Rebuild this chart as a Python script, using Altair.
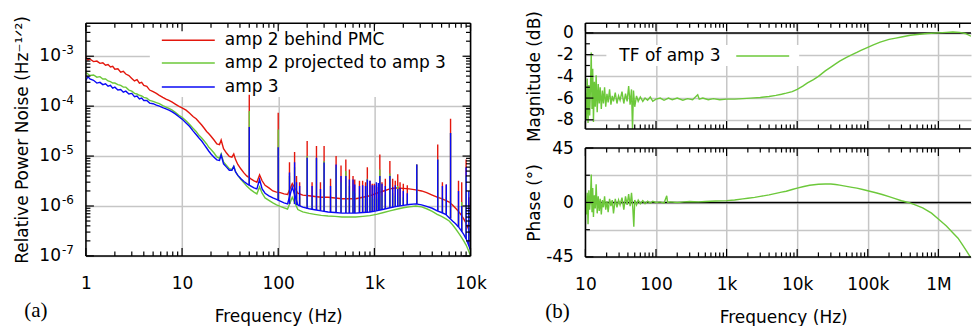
import altair as alt
import pandas as pd

FONT = "DejaVu Sans"
SERIF = "Liberation Serif"
RED = "#e3170d"
GREEN = "#6cc83a"
BLUE = "#0a0af5"
GRID = "#c6c6c6"

labels = ["amp 2 behind PMC", "amp 2 projected to amp 3", "amp 3"]

# ---------------- panel (a): relative power noise ----------------
noise_freq = [1.0, 1.05, 1.1, 1.2, 1.3, 1.4, 1.5, 1.6, 1.7, 1.8, 1.9, 2.0, 2.15, 2.3, 2.45, 2.6, 2.8, 3.0,
              3.2, 3.4, 3.6, 3.8, 4.0, 4.3, 4.6, 5.0, 5.4, 5.8, 6.3, 6.8, 7.3, 7.9, 8.5, 9.2, 10, 11, 12, 13,
              14, 15, 16, 17, 18, 19, 20, 21.5, 23, 24.5, 25.5, 27, 29, 31, 33, 34.5, 36, 38, 41, 44, 47, 52,
              56, 60, 64, 68, 73, 80, 88, 96, 105, 115, 125, 140, 160, 180, 210, 240, 280, 330, 390, 460,
              540, 640, 760, 900, 1050, 1250, 1450, 1700, 2000, 2300, 2700, 3100, 3500, 4000, 4500, 5000,
              5500, 6000, 6500, 7000, 7500, 8000, 8500, 9000, 9500, 10000]

red = [9.6e-4, 8.4e-4, 8.8e-4, 7.8e-4, 8.0e-4, 7.2e-4, 7.4e-4, 6.6e-4, 6.8e-4, 6.1e-4, 6.3e-4, 5.5e-4,
       5.6e-4, 4.8e-4, 5.0e-4, 4.4e-4, 4.1e-4, 3.6e-4, 3.2e-4, 3.4e-4, 2.9e-4, 3.0e-4, 2.6e-4, 2.5e-4,
       2.1e-4, 1.95e-4, 1.8e-4, 1.65e-4, 1.5e-4, 1.38e-4, 1.3e-4, 1.2e-4, 1.1e-4, 1.0e-4, 9.2e-5, 8.3e-5,
       7.2e-5, 6.2e-5, 5.6e-5, 4.8e-5, 4.2e-5, 3.6e-5, 3.1e-5, 2.8e-5, 2.5e-5, 2.1e-5, 1.75e-5, 1.7e-5,
       2.1e-5, 1.4e-5, 1.15e-5, 9.8e-6, 9.5e-6, 1.1e-5, 8.5e-6, 6.8e-6, 5.5e-6, 4.6e-6, 4.0e-6, 3.5e-6,
       3.2e-6, 3.0e-6, 4.2e-6, 3.2e-6, 2.6e-6, 2.3e-6, 2.0e-6, 1.9e-6, 1.85e-6, 1.75e-6, 1.7e-6, 2.8e-6,
       1.8e-6, 1.65e-6, 1.6e-6, 1.55e-6, 1.5e-6, 1.5e-6, 1.45e-6, 1.4e-6, 1.4e-6, 1.4e-6, 1.5e-6, 1.6e-6,
       1.8e-6, 2.0e-6, 2.2e-6, 2.3e-6, 2.25e-6, 2.2e-6, 2.1e-6, 2.0e-6, 1.85e-6, 1.65e-6, 1.5e-6, 1.4e-6,
       1.3e-6, 1.2e-6, 1.05e-6, 9.0e-7, 7.8e-7, 6.6e-7, 5.5e-7, 4.5e-7, 3.5e-7, 2.5e-7]

green = [4.7e-4, 4.4e-4, 4.1e-4, 4.2e-4, 3.8e-4, 3.9e-4, 3.5e-4, 3.5e-4, 3.2e-4, 3.1e-4, 2.9e-4, 2.9e-4,
         2.7e-4, 2.6e-4, 2.4e-4, 2.4e-4, 2.1e-4, 2.0e-4, 1.8e-4, 1.75e-4, 1.65e-4, 1.6e-4, 1.5e-4, 1.45e-4,
         1.3e-4, 1.25e-4, 1.18e-4, 1.12e-4, 1.03e-4, 9.6e-5, 9.0e-5, 8.3e-5, 7.5e-5, 6.6e-5, 6.0e-5, 5.1e-5,
         4.3e-5, 3.6e-5, 3.1e-5, 2.6e-5, 2.3e-5, 2.0e-5, 1.75e-5, 1.5e-5, 1.35e-5, 1.15e-5, 9.6e-6, 9.0e-6,
         1.1e-5, 7.6e-6, 6.5e-6, 5.6e-6, 5.4e-6, 6.2e-6, 4.9e-6, 4.1e-6, 3.4e-6, 2.9e-6, 2.5e-6, 2.1e-6,
         1.9e-6, 1.75e-6, 2.4e-6, 1.8e-6, 1.45e-6, 1.3e-6, 1.15e-6, 1.05e-6, 9.8e-7, 9.2e-7, 8.7e-7, 1.5e-6,
         8.5e-7, 7.6e-7, 7.1e-7, 6.8e-7, 6.5e-7, 6.3e-7, 6.2e-7, 6.0e-7, 6.0e-7, 6.0e-7, 6.2e-7, 6.4e-7,
         6.8e-7, 7.4e-7, 8.0e-7, 8.6e-7, 9.2e-7, 9.6e-7, 1.0e-6, 9.6e-7, 8.8e-7, 7.8e-7, 6.8e-7, 6.2e-7,
         5.6e-7, 5.0e-7, 4.2e-7, 3.5e-7, 2.9e-7, 2.4e-7, 2.0e-7, 1.65e-7, 1.3e-7, 1.0e-7]

blue = [3.3e-4, 3.9e-4, 3.5e-4, 3.3e-4, 2.9e-4, 3.0e-4, 2.7e-4, 2.8e-4, 2.5e-4, 2.6e-4, 2.3e-4, 2.4e-4,
        2.1e-4, 2.15e-4, 1.9e-4, 2.0e-4, 1.75e-4, 1.8e-4, 1.55e-4, 1.6e-4, 1.4e-4, 1.45e-4, 1.3e-4, 1.3e-4,
        1.15e-4, 1.12e-4, 1.05e-4, 1.0e-4, 9.3e-5, 8.8e-5, 8.3e-5, 7.7e-5, 7.0e-5, 6.2e-5, 5.5e-5, 4.6e-5,
        3.9e-5, 3.2e-5, 2.7e-5, 2.3e-5, 2.0e-5, 1.7e-5, 1.45e-5, 1.25e-5, 1.1e-5, 9.5e-6, 8.4e-6, 8.2e-6,
        1.05e-5, 7.0e-6, 6.0e-6, 5.2e-6, 5.2e-6, 6.2e-6, 4.8e-6, 4.1e-6, 3.5e-6, 3.1e-6, 2.8e-6, 2.5e-6,
        2.3e-6, 2.2e-6, 3.4e-6, 2.2e-6, 1.8e-6, 1.6e-6, 1.45e-6, 1.35e-6, 1.25e-6, 1.15e-6, 1.1e-6, 2.4e-6,
        1.05e-6, 9.5e-7, 8.8e-7, 8.4e-7, 8.0e-7, 7.6e-7, 7.4e-7, 7.2e-7, 7.2e-7, 7.2e-7, 7.4e-7, 7.6e-7,
        8.0e-7, 8.6e-7, 9.2e-7, 9.8e-7, 1.03e-6, 1.07e-6, 1.1e-6, 1.05e-6, 9.8e-7, 9.0e-7, 8.0e-7, 7.4e-7,
        6.8e-7, 5.8e-7, 5.0e-7, 4.4e-7, 3.8e-7, 3.2e-7, 2.7e-7, 2.2e-7, 1.7e-7, 1.3e-7]

# narrow spectral lines: frequency, foot (local floor), top of each trace
spike_freq = [50, 100, 131, 148, 155, 167, 200, 225, 250, 275, 300, 350, 400, 450, 505, 550, 600, 625,
              700, 755, 810, 845, 900, 950, 1000, 1050, 1100, 1140, 1200, 1300, 1450, 1550, 1650, 1750,
              1850, 2000, 2200, 2760, 4560, 5100, 5600, 6200, 7500, 8100, 9000, 9600]
spike_foot = [2.6e-6, 1.3e-6, 1.1e-6, 1.1e-6, 1.05e-6, 1.0e-6, 8.9e-7, 8.6e-7, 8.3e-7, 8.0e-7, 7.9e-7,
              7.6e-7, 7.4e-7, 7.3e-7, 7.2e-7, 7.2e-7, 7.2e-7, 7.2e-7, 7.3e-7, 7.4e-7, 7.5e-7, 7.5e-7,
              7.6e-7, 7.7e-7, 7.9e-7, 8.0e-7, 8.2e-7, 8.3e-7, 8.5e-7, 8.7e-7, 9.2e-7, 9.4e-7, 9.6e-7,
              9.9e-7, 1.0e-6, 1.03e-6, 1.05e-6, 1.1e-6, 8.0e-7, 7.3e-7, 6.6e-7, 5.6e-7, 3.8e-7, 3.1e-7,
              2.2e-7, 1.6e-7]
spike_red = [1.7e-4, 7.4e-5, 7.5e-6, 1.2e-5, 4.0e-6, 3.0e-6, 2.0e-5, 3.0e-6, 1.6e-5, 3.0e-6, 1.6e-5,
             3.5e-6, 1.0e-5, 6.5e-6, 8.5e-6, 5.4e-6, 4.0e-6, 3.4e-6, 3.2e-6, 3.2e-6, 3.0e-6, 6.0e-6,
             3.2e-6, 2.8e-6, 2.8e-6, 2.6e-6, 2.4e-6, 1.07e-5, 3.0e-6, 3.5e-6, 8.0e-6, 3.5e-6, 3.2e-6,
             4.3e-6, 3.0e-6, 2.8e-6, 2.6e-6, 6.8e-6, 1.7e-5, 3.0e-6, 2.7e-6, 5.6e-5, 3.2e-6, 3.0e-6,
             8.5e-6, 1.5e-6]
spike_green = [8.0e-5, 3.4e-5, 4.0e-6, 6.0e-6, 2.0e-6, 1.5e-6, 1.0e-5, 1.5e-6, 9.0e-6, 1.5e-6, 8.0e-6,
               1.6e-6, 6.0e-6, 3.0e-6, 5.0e-6, 2.5e-6, 2.0e-6, 1.8e-6, 1.6e-6, 1.6e-6, 1.5e-6, 3.5e-6,
               1.8e-6, 1.5e-6, 1.4e-6, 1.5e-6, 1.4e-6, 5.4e-6, 1.6e-6, 1.7e-6, 4.5e-6, 1.8e-6, 1.6e-6,
               2.5e-6, 1.5e-6, 1.5e-6, 1.3e-6, 6.8e-6, 8.5e-6, 1.5e-6, 1.5e-6, 2.9e-5, 1.0e-6, 1.2e-6,
               4.0e-6, 8.0e-7]
spike_blue = [3.8e-5, 1.5e-5, 4.7e-6, 7.5e-6, 3.0e-6, 2.5e-6, 9.3e-6, 2.5e-6, 9.3e-6, 2.2e-6, 7.4e-6,
              2.5e-6, 6.8e-6, 4.0e-6, 4.0e-6, 3.4e-6, 3.4e-6, 2.7e-6, 2.5e-6, 2.6e-6, 2.5e-6, 3.4e-6,
              3.2e-6, 2.6e-6, 2.6e-6, 3.0e-6, 2.9e-6, 4.0e-6, 2.8e-6, 2.5e-6, 4.0e-6, 2.4e-6, 2.6e-6,
              2.2e-6, 2.3e-6, 2.0e-6, 1.8e-6, 6.8e-6, 8.5e-6, 2.5e-6, 2.7e-6, 2.9e-5, 2.0e-6, 1.0e-6,
              6.0e-6, 2.0e-6]

# y tick labels of panel (a): decade value and its exponent
decade_values = [1e-7, 1e-6, 1e-5, 1e-4, 1e-3]
decade_exponents = ["-7", "-6", "-5", "-4", "-3"]

# ---------------- panel (b): transfer function ----------------
mag_freq = [10, 10.3, 10.6, 10.9, 11.2, 11.5, 11.8, 12.1, 12.4, 12.7, 13.0, 13.4, 13.8, 14.2, 14.7, 15.2,
            15.7, 16.2, 16.8, 17.4, 18, 18.7, 19.4, 20.2, 21, 22, 23, 24, 25, 26.5, 28, 29.5, 31, 33, 35,
            37, 39, 41, 43, 45, 46.5, 48, 50, 53, 56, 60, 65, 70, 76, 83, 90, 100, 115, 130, 150, 170,
            200, 240, 280, 330, 390, 410, 460, 550, 650, 800, 1000, 1300, 1700, 2200, 3000, 4000, 5000,
            6000, 7000, 8500, 10000, 12000, 14000, 17000, 20000, 25000, 30000, 35000, 40000, 50000,
            60000, 70000, 80000, 100000, 120000, 150000, 200000, 250000, 300000, 400000, 500000,
            700000, 1000000, 1300000, 1600000, 2000000, 2400000, 2900000]
mag_db = [-5.5, -8.0, -4.2, -8.3, -4.8, -7.6, -5.0, -1.8, -7.0, -3.3, -8.2, -4.5, -6.8, -3.9, -7.3, -4.7,
          -6.5, -5.0, -7.0, -5.3, -6.5, -5.0, -6.8, -5.6, -6.4, -5.2, -6.6, -5.8, -6.3, -5.5, -6.5, -5.8,
          -6.2, -5.4, -6.5, -5.6, -6.3, -4.9, -6.6, -5.2, -8.9, -5.3, -6.8, -5.8, -6.3, -5.9, -6.3, -6.0,
          -6.2, -5.9, -6.3, -6.1, -6.0, -6.2, -6.0, -6.15, -6.0, -6.2, -6.05, -6.15, -5.7, -6.1, -6.0,
          -6.15, -6.05, -6.15, -6.1, -6.1, -6.05, -6.0, -5.95, -5.85, -5.75, -5.65, -5.55, -5.4, -5.2,
          -4.9, -4.6, -4.3, -4.0, -3.5, -3.15, -2.85, -2.6, -2.25, -2.0, -1.8, -1.6, -1.33, -1.1, -0.85,
          -0.6, -0.48, -0.38, -0.22, -0.15, -0.06, 0.0, 0.05, 0.08, 0.05, -0.05, -0.3]

phase_freq = [10, 10.3, 10.6, 10.9, 11.2, 11.5, 11.8, 12.1, 12.4, 12.7, 13.0, 13.4, 13.8, 14.2, 14.7,
              15.2, 15.7, 16.2, 16.8, 17.4, 18, 18.7, 19.4, 20.2, 21, 22, 23, 24, 25, 26.5, 28, 29.5, 31,
              33, 35, 37, 39, 41, 43, 45, 47, 48.5, 50, 53, 56, 60, 65, 70, 76, 83, 90, 100, 115, 130,
              142, 146, 160, 200, 250, 300, 400, 500, 700, 1000, 1300, 1700, 2000, 2500, 3000, 4000,
              5000, 6000, 7000, 8500, 10000, 12000, 15000, 20000, 25000, 30000, 35000, 40000, 50000,
              60000, 70000, 85000, 100000, 130000, 160000, 200000, 250000, 300000, 375000, 450000,
              600000, 800000, 1000000, 1300000, 1600000, 1900000, 2200000, 2500000, 2900000]
phase_deg = [2, -10, 8, -18, 10, -6, 4, 23, -8, 12, -12, 6, -5, 15, -9, 5, -7, 3, -10, 2, -4, 5, -6, 1,
             -8, 3, -3, 2, -9, 3, -4, 2, -2, 4, -6, 5, -2, 7, -3, 8, -5, -20, 2, -2, 2, -1, 1.5, -1, 1,
             -0.5, 1, 0, 0.5, -0.5, 5.5, 0, 0.5, 0, 0.5, 0.8, 0.5, 0.8, 1.2, 1.5, 2, 3, 3.5, 4.2, 5,
             6.3, 7.5, 8.5, 9.3, 10.7, 11.8, 13, 14.2, 15.0, 15.3, 15.2, 14.8, 14.3, 13.3, 12.5, 11.8,
             10.7, 9.7, 8, 6.6, 4.8, 3, 1.4, 0, -1.6, -4.5, -8.8, -13.7, -19.5, -25, -29.5, -35, -40,
             -46]

# ---------------- tables ----------------
rows = []
for lab, vals in zip(labels, [red, green, blue]):
    for f, v in zip(noise_freq, vals):
        rows.append({"freq": f, "value": v, "series": lab})
noise_df = pd.DataFrame(rows)
spike_df = pd.DataFrame({"sf": spike_freq, "foot": spike_foot, "r": spike_red,
                         "g": spike_green, "b": spike_blue})
decade_df = pd.DataFrame({"value": decade_values, "exp": decade_exponents})
mag_df = pd.DataFrame({"freq": mag_freq, "db": mag_db})
phase_df = pd.DataFrame({"freq": phase_freq, "deg": phase_deg})
one = pd.DataFrame({"a": [0]})

W1, H1 = 385, 233
W2, HM, HP = 386, 106, 109

xs1 = alt.Scale(type="log", domain=[1, 10000], nice=False)
ys1 = alt.Scale(type="log", domain=[1e-7, 4.6e-3], nice=False)
xs2 = alt.Scale(type="log", domain=[10, 2.9e6], nice=False)
ysm = alt.Scale(domain=[-8.85, 0.9], nice=False, zero=False)
ysp = alt.Scale(domain=[-45, 45], nice=False, zero=False)

lab_style = dict(labelFont=FONT, labelFontSize=17, labelColor="black", labelOverlap=False,
                 labelFlush=False, titleFont=FONT, titleFontSize=17, titleFontWeight="normal",
                 titleColor="black", gridColor=GRID, gridWidth=1.5, ticks=False, domain=False)

freq_expr1 = "datum.value >= 1000 ? format(datum.value / 1000, '.0f') + 'k' : format(datum.value, '.0f')"
freq_expr2 = ("datum.value >= 1000000 ? format(datum.value / 1000000, '.0f') + 'M' : "
              "datum.value >= 1000 ? format(datum.value / 1000, '.0f') + 'k' : format(datum.value, '.0f')")

xaxis1 = alt.Axis(values=[1, 10, 100, 1000, 10000], labelExpr=freq_expr1, grid=True, labelPadding=20,
                  title="Frequency (Hz)", titlePadding=17, **lab_style)
yaxis1 = alt.Axis(values=decade_values, labels=False, grid=True,
                  minExtent=47, maxExtent=47, title="Relative Power Noise (Hz⁻¹ᐟ²)", titlePadding=7,
                  **lab_style)
xaxis2a = alt.Axis(values=[10, 100, 1e3, 1e4, 1e5, 1e6], grid=True, labels=False, title=None,
                   **lab_style)
xaxis2b = alt.Axis(values=[10, 100, 1e3, 1e4, 1e5, 1e6], labelExpr=freq_expr2, grid=True,
                   labelPadding=20, title="Frequency (Hz)", titlePadding=17, titleX=198, **lab_style)
yaxism = alt.Axis(values=[-8, -6, -4, -2, 0], labelExpr="'' + datum.value", grid=True, labelPadding=12,
                  minExtent=37, maxExtent=37, title="Magnitude (dB)", titlePadding=5, **lab_style)
yaxisp = alt.Axis(values=[-45, -22.5, 0, 22.5, 45],
                  labelExpr="abs(datum.value) == 22.5 ? '' : '' + datum.value", grid=True,
                  labelPadding=12, minExtent=37, maxExtent=37, title="Phase (°)", titlePadding=5,
                  **lab_style)


def frame(W, H, right=True):
    out = [
        alt.Chart(one).mark_rule(color="black", strokeWidth=1.5).encode(
            x=alt.value(0), x2=alt.value(W), y=alt.value(0)),
        alt.Chart(one).mark_rule(color="black", strokeWidth=1.5).encode(
            x=alt.value(0), x2=alt.value(W), y=alt.value(H)),
        alt.Chart(one).mark_rule(color="black", strokeWidth=1.5).encode(
            x=alt.value(0), y=alt.value(0), y2=alt.value(H)),
    ]
    if right:
        out.append(alt.Chart(one).mark_rule(color="black", strokeWidth=1.5).encode(
            x=alt.value(W), y=alt.value(0), y2=alt.value(H)))
    return out


def xticks(scale, axis, majors, minors, H):
    out = []
    for vals, L in ((majors, 8), (minors, 4.5)):
        d = pd.DataFrame({"freq": vals})
        for y0, y1 in ((0, L), (H, H - L)):
            out.append(alt.Chart(d).mark_rule(color="black", strokeWidth=1.2).encode(
                x=alt.X("freq:Q", scale=scale, axis=axis), y=alt.value(y0), y2=alt.value(y1)))
    return out


def yticks(scale, axis, fld, majors, minors, W, right=True):
    out = []
    for vals, L in ((majors, 8), (minors, 4.5)):
        d = pd.DataFrame({fld: vals})
        sides = [(0, L)] + ([(W, W - L)] if right else [])
        for x0, x1 in sides:
            out.append(alt.Chart(d).mark_rule(color="black", strokeWidth=1.2).encode(
                y=alt.Y(f"{fld}:Q", scale=scale, axis=axis), x=alt.value(x0), x2=alt.value(x1)))
    return out


def legend_row(text, color, W_line0, W_line1, W_text, yy):
    line = alt.Chart(one).mark_rule(color=color, strokeWidth=1.5).encode(
        x=alt.value(W_line0), x2=alt.value(W_line1), y=alt.value(yy))
    txt = alt.Chart(one).mark_text(text=text, font=FONT, fontSize=17, align="left",
                                   baseline="middle", color="black").encode(
        x=alt.value(W_text), y=alt.value(yy))
    return [line, txt]


# ---------- left chart ----------
# opaque key box sits over the grid but under the traces
leg1_box = alt.Chart(one).mark_rect(color="white").encode(
    x=alt.value(64), x2=alt.value(379), y=alt.value(2), y2=alt.value(74))

layers1 = [leg1_box]
for lab, col, fld in zip(labels, [RED, GREEN, BLUE], ["r", "g", "b"]):
    layers1.append(alt.Chart(noise_df).transform_filter(alt.datum.series == lab)
                   .mark_line(strokeWidth=1.4, clip=True, color=col)
                   .encode(x=alt.X("freq:Q", scale=xs1, axis=xaxis1),
                           y=alt.Y("value:Q", scale=ys1, axis=yaxis1)))
    layers1.append(alt.Chart(spike_df).transform_calculate(freq="datum.sf", value=f"datum.{fld}")
                   .mark_rule(color=col, strokeWidth=1.4, clip=True)
                   .encode(x=alt.X("freq:Q", scale=xs1, axis=xaxis1),
                           y=alt.Y("value:Q", scale=ys1, axis=yaxis1), y2="foot:Q"))

x1_major = [1, 10, 100, 1000, 10000]
x1_minor = [m * 10 ** e for e in range(0, 4) for m in range(2, 10)]
y1_minor = [m * 10.0 ** e for e in range(-7, -2) for m in range(2, 10) if m * 10.0 ** e <= 4.6e-3]

leg1 = []
for lab, col, yy in zip(labels, [RED, GREEN, BLUE], [17, 40, 64]):
    leg1 += legend_row(lab, col, 76, 129, 139, yy)

# decade labels "10" with raised exponent
ten_lbl = alt.Chart(decade_df).mark_text(text="10", font=FONT, fontSize=17, align="right",
                                         baseline="middle", color="black").encode(
    x=alt.value(-25), y=alt.Y("value:Q", scale=ys1, axis=yaxis1))
exp_lbl = alt.Chart(decade_df).mark_text(font=FONT, fontSize=12, align="left", baseline="middle",
                                         color="black", dy=-6).encode(
    x=alt.value(-24), y=alt.Y("value:Q", scale=ys1, axis=yaxis1), text="exp:N")

text_a = alt.Chart(one).mark_text(text="(a)", font=SERIF, fontSize=21, align="center",
                                  baseline="middle", color="black").encode(
    x=alt.value(-50), y=alt.value(288))

left = alt.layer(*layers1, *leg1, *frame(W1, H1), *xticks(xs1, xaxis1, x1_major, x1_minor, H1),
                 *yticks(ys1, yaxis1, "value", decade_values, y1_minor, W1), ten_lbl, exp_lbl, text_a
                 ).properties(width=W1, height=H1)

# ---------- right charts ----------
x2_major = [10, 100, 1e3, 1e4, 1e5, 1e6]
x2_minor = [m * 10 ** e for e in range(1, 7) for m in range(2, 10) if m * 10 ** e <= 2.9e6]

mag_line = alt.Chart(mag_df).mark_line(color=GREEN, strokeWidth=1.4, clip=True).encode(
    x=alt.X("freq:Q", scale=xs2, axis=xaxis2a), y=alt.Y("db:Q", scale=ysm, axis=yaxism))
mag_zero = alt.Chart(one).transform_calculate(db="0").mark_rule(color="black", strokeWidth=1.5).encode(
    y=alt.Y("db:Q", scale=ysm, axis=yaxism))
leg_box = alt.Chart(one).mark_rect(color="white").encode(
    x=alt.value(21), x2=alt.value(214), y=alt.value(22), y2=alt.value(43))
leg2 = legend_row("TF of amp 3", GREEN, 151, 204, 34, 33)

mag = alt.layer(mag_zero, leg_box, mag_line, *leg2, *frame(W2, HM, right=False),
                *xticks(xs2, xaxis2a, x2_major, x2_minor, HM),
                *yticks(ysm, yaxism, "db", [-8, -6, -4, -2, 0], [-7, -5, -3, -1], W2, right=False)
                ).properties(width=W2, height=HM)

ph_line = alt.Chart(phase_df).mark_line(color=GREEN, strokeWidth=1.4, clip=True).encode(
    x=alt.X("freq:Q", scale=xs2, axis=xaxis2b), y=alt.Y("deg:Q", scale=ysp, axis=yaxisp))
ph_zero = alt.Chart(one).transform_calculate(deg="0").mark_rule(color="black", strokeWidth=1.5).encode(
    y=alt.Y("deg:Q", scale=ysp, axis=yaxisp))
text_b = alt.Chart(one).mark_text(text="(b)", font=SERIF, fontSize=21, align="center",
                                  baseline="middle", color="black").encode(
    x=alt.value(-28), y=alt.value(164))

phase = alt.layer(ph_zero, ph_line, *frame(W2, HP, right=False),
                  *xticks(xs2, xaxis2b, x2_major, x2_minor, HP),
                  *yticks(ysp, yaxisp, "deg", [-45, 0, 45], [-22.5, 22.5], W2, right=False), text_b
                  ).properties(width=W2, height=HP)

right = alt.vconcat(mag, phase, spacing=19, bounds="flush")

chart = (alt.hconcat(left, right, spacing=115, bounds="flush")
         .properties(padding={"left": 13, "top": 10, "right": 2, "bottom": 0})
         .configure_view(stroke=None))

chart.save("out.html", embed_options={"renderer": "svg", "actions": False})
